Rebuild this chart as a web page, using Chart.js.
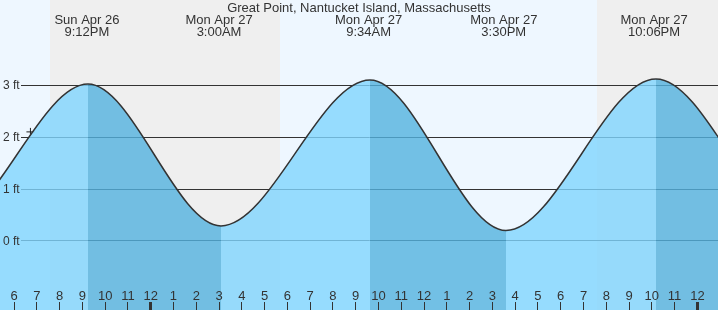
<!DOCTYPE html>
<html>
<head>
<meta charset="utf-8">
<script src="https://cdn.jsdelivr.net/npm/chart.js@4/dist/chart.umd.min.js"></script>
<style>
  html, body { margin: 0; padding: 0; overflow: hidden; background: #fff; }
  canvas { display: block; }
</style>
</head>
<body>
<canvas id="canvas" width="718" height="310"></canvas>
<script>
// hours counted from midnight Sun Apr 26
var tideTimes = [8.9, 15.0, 21.2473, 27.0862, 33.6275, 39.5979, 46.1831, 52.6, 58.9];
var tideHeights = [3.0, 0.3, 3.02, 0.29, 3.10, 0.20, 3.12, 0.25, 3.0];

var extremeTimes = [21.2, 27.0, 33.567, 39.5, 46.1];
var extremeDays = ["Sun Apr 26", "Mon Apr 27", "Mon Apr 27", "Mon Apr 27", "Mon Apr 27"];
var extremeClock = ["9:12PM", "3:00AM", "9:34AM", "3:30PM", "10:06PM"];

var nowTime = [18.72];
var nowHeight = [2.1];

var nightStart = [19.58, 43.59];
var nightEnd = [29.68, 53.0];

var hourTicks = [18, 19, 20, 21, 22, 23, 24, 25, 26, 27, 28, 29, 30, 31, 32, 33, 34, 35, 36, 37, 38, 39, 40, 41, 42, 43, 44, 45, 46, 47, 48];
var hourLabels = ["6", "7", "8", "9", "10", "11", "12", "1", "2", "3", "4", "5", "6", "7", "8", "9", "10", "11", "12", "1", "2", "3", "4", "5", "6", "7", "8", "9", "10", "11", "12"];

var heightTicks = [0, 1, 2, 3];
var heightLabels = ["0 ft", "1 ft", "2 ft", "3 ft"];

var title = "Great Point, Nantucket Island, Massachusetts";

var lightFill = "rgba(128,213,254,0.8)";
var darkFill = "rgba(83,178,223,0.8)";
var textColor = "#333";

var tidePoints = [];
for (var i = 0; i < tideTimes.length; i++) {
    tidePoints.push({ x: tideTimes[i], y: tideHeights[i] });
}
var nowPoints = [];
for (var i = 0; i < nowTime.length; i++) {
    nowPoints.push({ x: nowTime[i], y: nowHeight[i] });
}

var tidePlugin = {
    id: "tide",
    beforeDraw: function (chart) {
        var ctx = chart.ctx, a = chart.chartArea, xs = chart.scales.x;
        ctx.save();
        ctx.fillStyle = "#eef7ff";
        ctx.fillRect(a.left, a.top, a.right - a.left, a.bottom - a.top);
        ctx.fillStyle = "#efefef";
        for (var i = 0; i < nightStart.length; i++) {
            var x0 = Math.max(a.left, Math.round(xs.getPixelForValue(nightStart[i])));
            var x1 = Math.min(a.right, Math.round(xs.getPixelForValue(nightEnd[i])));
            ctx.fillRect(x0, a.top, x1 - x0, a.bottom - a.top);
        }
        ctx.restore();
    },
    beforeDatasetsDraw: function (chart) {
        var ctx = chart.ctx, a = chart.chartArea, ys = chart.scales.y;
        ctx.save();
        ctx.strokeStyle = "#333";
        ctx.lineWidth = 1;
        for (var i = 0; i < heightTicks.length; i++) {
            var y = Math.floor(ys.getPixelForValue(heightTicks[i])) + 0.5;
            ctx.beginPath();
            ctx.moveTo(21, y);
            ctx.lineTo(a.right, y);
            ctx.stroke();
        }
        ctx.restore();
    },
    afterDatasetsDraw: function (chart) {
        var ctx = chart.ctx, a = chart.chartArea, xs = chart.scales.x, ys = chart.scales.y;
        ctx.save();
        ctx.fillStyle = textColor;
        ctx.strokeStyle = "#333";

        // height labels
        ctx.font = '12px "Liberation Sans", Arial, sans-serif';
        ctx.textAlign = "left";
        ctx.textBaseline = "middle";
        for (var i = 0; i < heightTicks.length; i++) {
            ctx.fillText(heightLabels[i], 3, ys.getPixelForValue(heightTicks[i]) + 1);
        }

        // hour ticks
        ctx.font = '13px "Liberation Sans", Arial, sans-serif';
        ctx.textAlign = "center";
        ctx.textBaseline = "alphabetic";
        for (var i = 0; i < hourTicks.length; i++) {
            var px = xs.getPixelForValue(hourTicks[i]);
            var x = Math.floor(px) + 0.5;
            ctx.lineWidth = (hourTicks[i] % 24 === 0) ? 3 : 1;
            ctx.beginPath();
            ctx.moveTo(x, 302);
            ctx.lineTo(x, a.bottom);
            ctx.stroke();
            ctx.fillText(hourLabels[i], px, 300);
        }

        // title and high / low labels
        ctx.fillText(title, a.left + (a.right - a.left) / 2, 12);
        for (var i = 0; i < extremeTimes.length; i++) {
            var ex = xs.getPixelForValue(extremeTimes[i]);
            ctx.fillText(extremeDays[i], ex, 24);
            ctx.fillText(extremeClock[i], ex, 36);
        }
        ctx.restore();
    }
};

new Chart(document.getElementById("canvas"), {
    type: "line",
    data: {
        datasets: [{
            data: tidePoints,
            borderColor: "#333",
            borderWidth: 1.5,
            pointRadius: 0,
            fill: "start",
            backgroundColor: lightFill,
            cubicInterpolationMode: "monotone",
            segment: {
                backgroundColor: function (ctx) {
                    return ctx.p1.parsed.y < ctx.p0.parsed.y ? darkFill : lightFill;
                }
            }
        }, {
            data: nowPoints,
            showLine: false,
            fill: false,
            pointStyle: "cross",
            pointRadius: 4,
            borderColor: "#222",
            borderWidth: 1
        }]
    },
    options: {
        responsive: false,
        animation: false,
        layout: { padding: 0, autoPadding: false },
        plugins: {
            legend: { display: false },
            tooltip: { enabled: false }
        },
        scales: {
            x: { type: "linear", min: 17.384, max: 48.905, display: false },
            y: { min: -1.33, max: 4.64, display: false }
        }
    },
    plugins: [tidePlugin]
});
</script>
</body>
</html>
